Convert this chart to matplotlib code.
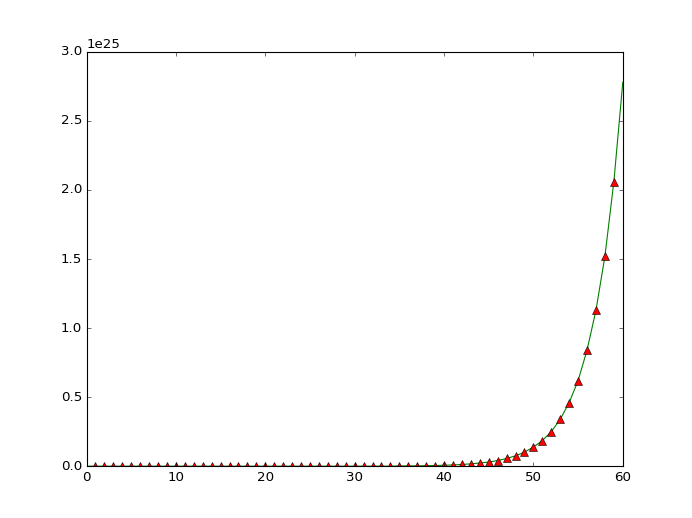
import matplotlib
matplotlib.use('Agg')
import matplotlib.pyplot as plt

plt.style.use('classic')

# marker positions and values (units of 1e25)
x_pts = list(range(1, 60))
y_pts = [0.0] * 30 + [
    0.00003, 0.00005, 0.0001, 0.0002, 0.0015, 0.002, 0.0027, 0.0037, 0.005,
    0.0068, 0.0092, 0.0125, 0.017, 0.023, 0.030, 0.041, 0.056, 0.075, 0.102,
    0.138, 0.186, 0.25, 0.34, 0.46, 0.62, 0.84, 1.13, 1.52, 2.06,
]
# the green curve runs from 0 to 60
x_line = [0] + x_pts + [60]
y_line = [0.0] + y_pts + [2.78]

scale = 1e25

fig = plt.figure(figsize=(692 / 80, 518 / 80), dpi=80)
ax = fig.add_subplot(111)
ax.plot(x_line, [v * scale for v in y_line], 'g-')
ax.plot(x_pts, [v * scale for v in y_pts], 'r^', markeredgecolor='k',
        markersize=7.5)
ax.set_xlim(0, 60)
ax.set_ylim(0, 3e25)

fig.savefig('out.png', dpi=80)
